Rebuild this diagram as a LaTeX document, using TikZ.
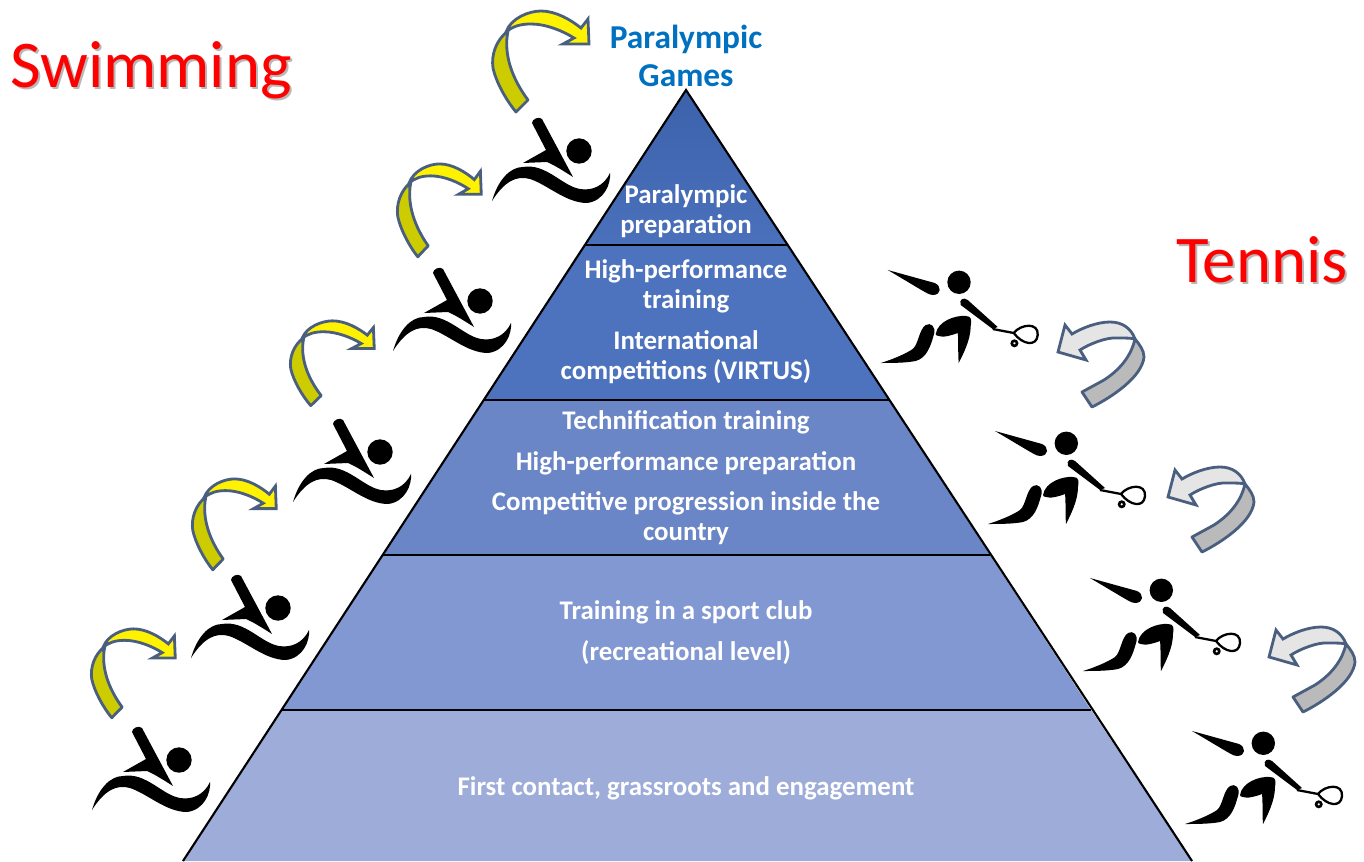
\documentclass[tikz,border=0pt]{standalone}
\usepackage{fontspec}
\setmainfont{Carlito}
\definecolor{arrowline}{HTML}{4A5F80}
\definecolor{darkyellow}{HTML}{CCCC00}
\definecolor{layerA}{HTML}{3C62AC}
\definecolor{layerB}{HTML}{4D73BE}
\definecolor{layerC}{HTML}{6A86C6}
\definecolor{layerD}{HTML}{8298D2}
\definecolor{layerE}{HTML}{9DACD8}
\definecolor{titleblue}{HTML}{0070C0}
\tikzset{
lbl/.style={text=white,font=\bfseries\fontsize{15.3}{17}\selectfont,align=center,inner sep=0pt},
sporttitle/.style={text=red,font=\fontsize{38}{42}\selectfont,inner sep=0pt},
sportshadow/.style={text=black!28,font=\fontsize{38}{42}\selectfont,inner sep=0pt},
pics/swimmer/.style={code={
    \fill (89,33) circle [radius=12.7];
    \fill (42,5) .. controls (42,1) and (49,-2) .. (52,1) -- (83,59) .. controls (72,52) and (64,47) .. (57,44) -- (33,45) -- (56,32) -- cycle;
    \fill (2,83) .. controls (8,62) and (20,49) .. (33,49) .. controls (56,45) and (72,68) .. (90,71)
        .. controls (102,73) and (114,68) .. (120,55) .. controls (121,66) and (114,83) .. (97,85)
        .. controls (76,85) and (58,67) .. (40,61) .. controls (26,57) and (14,64) .. cycle;
}},
pics/racketplayer/.style={code={
    \fill (88.3,32.3) circle [radius=11.7];
    \fill (17,20) -- (64,33) .. controls (71,36) and (71,45) .. (62,45) .. controls (58,45) and (56,43) .. cycle;
    \fill (90,55) .. controls (88,49) and (93,47) .. (97,50) -- (127,77) -- (122,79) -- cycle;
    \draw[line width=1.3pt] (122,79) -- (143,83) .. controls (150,74) and (168,72) .. (167,85)
        .. controls (166,97) and (152,95) .. (143,83);
    \draw[line width=1.5pt] (143.7,93.3) circle [radius=2.6];
    \fill (65,84) .. controls (67,71) and (85,65) .. (95,66) .. controls (101,66) and (101,70) .. (100,76)
        .. controls (100,90) and (92,105) .. (88,113) .. controls (87,100) and (88,92) .. (87,83)
        .. controls (82,85) and (72,88) .. (68,86) .. controls (66,86) and (65,85) .. cycle;
    \fill (55,75) .. controls (60,72) and (66,77) .. (63,85) .. controls (60,96) and (56,108) .. (45,111)
        .. controls (35,113) and (20,113) .. (10,113) .. controls (20,110) and (35,104) .. (42,99)
        .. controls (48,94) and (48,80) .. cycle;
}},
pics/swimarrow/.style={code={
    \draw[draw=arrowline,line width=1.6pt,line join=round,fill=darkyellow]
        (25,102) -- (37,90) .. controls (22,70) and (12,45) .. (17,21)
        .. controls (5,30) and (0,45) .. (2,58) .. controls (5,72) and (15,90) .. cycle;
    \draw[draw=arrowline,line width=1.6pt,line join=miter,fill=yellow]
        (15,22) .. controls (20,8) and (38,1) .. (50,1) .. controls (65,1) and (80,10) .. (90,18)
        -- (97,9) -- (98,34) -- (72,34) -- (83,28) .. controls (72,21) and (55,14) .. (40,14)
        .. controls (30,14) and (22,16) .. cycle;
}},
pics/tennisarrow/.style={code={
    \draw[draw=arrowline,line width=1.6pt,line join=round,fill=black!27]
        (25,70) -- (35,85) .. controls (55,75) and (85,55) .. (87,35) .. controls (87,28) and (82,22) .. (78,17)
        .. controls (75,30) and (67,45) .. (47,58) -- cycle;
    \draw[draw=arrowline,line width=1.6pt,line join=miter,fill=black!10]
        (78,17) .. controls (74,6) and (65,0) .. (53,0) .. controls (40,0) and (25,6) .. (15,12)
        -- (8,3) -- (1,30) -- (29,38) -- (23,28) .. controls (32,22) and (50,15) .. (60,16)
        .. controls (68,16) and (74,16) .. cycle;
}}
}
\begin{document}
\begin{tikzpicture}[x=0.02cm,y=-0.02cm,>=stealth]
\useasboundingbox (0,0) rectangle (1364,861);

\coordinate (apex) at (686,90);
\coordinate (al) at (585,245);
\coordinate (ar) at (788,245);
\coordinate (bl) at (484,400);
\coordinate (br) at (889,400);
\coordinate (cl) at (383,555);
\coordinate (cr) at (990,555);
\coordinate (dl) at (282,710);
\coordinate (dr) at (1091,710);
\coordinate (el) at (183,861);
\coordinate (er) at (1192,861);

\fill[top color=layerA,bottom color=layerB!85!layerA] (apex) -- (ar) -- (al) -- cycle;
\fill[layerB] (al) -- (ar) -- (br) -- (bl) -- cycle;
\fill[layerC] (bl) -- (br) -- (cr) -- (cl) -- cycle;
\fill[layerD] (cl) -- (cr) -- (dr) -- (dl) -- cycle;
\fill[layerE] (dl) -- (dr) -- (er) -- (el) -- cycle;

\draw[line width=1.2pt] (el) -- (apex) -- (er);
\draw[line width=1.2pt] (al) -- (ar);
\draw[line width=1.2pt] (bl) -- (br);
\draw[line width=1.2pt] (cl) -- (cr);
\draw[line width=1.2pt] (dl) -- (dr);

\node[lbl] (prep) at (686,211) {Paralympic\\preparation};
\node[lbl] (high) at (686,286) {High-performance\\training};
\node[lbl] (intl) at (686,357) {International\\competitions (VIRTUS)};
\node[lbl] (tech) at (686,422) {Technification training};
\node[lbl] (hpp) at (686,463) {High-performance preparation};
\node[lbl] (comp) at (686,518) {Competitive progression inside the\\country};
\node[lbl] (club) at (686,612) {Training in a sport club};
\node[lbl] (recr) at (686,653) {(recreational level)};
\node[lbl] (first) at (686,788) {First contact, grassroots and engagement};
\node[lbl,text=titleblue,font=\bfseries\fontsize{19}{22}\selectfont] (games) at (686,56) {Paralympic\\Games};

\node[sportshadow] (swimshadow) at (153,72) {Swimming};
\node[sporttitle] (swim) at (151,70) {Swimming};
\node[sportshadow] (tennisshadow) at (1264,262) {Tennis};
\node[sporttitle] (tennis) at (1262,260) {Tennis};

\pic at (490,118) {swimmer};
\pic at (391,268) {swimmer};
\pic at (291,419) {swimmer};
\pic at (189,575) {swimmer};
\pic at (90,727) {swimmer};

\pic at (870.7,250) {racketplayer};
\pic at (978,411) {racketplayer};
\pic at (1073,558) {racketplayer};
\pic at (1175,711) {racketplayer};

\pic at (491,10) {swimarrow};
\pic[xscale=.87,yscale=.92] at (396,163) {swimarrow};
\pic[xscale=.87,yscale=.84] at (289,320) {swimarrow};
\pic[xscale=.87,yscale=.9] at (191,478) {swimarrow};
\pic[xscale=.87,yscale=.88] at (90,628) {swimarrow};

\pic at (1057,322) {tennisarrow};
\pic at (1167,467) {tennisarrow};
\pic at (1268,627) {tennisarrow};
\end{tikzpicture}
\end{document}
